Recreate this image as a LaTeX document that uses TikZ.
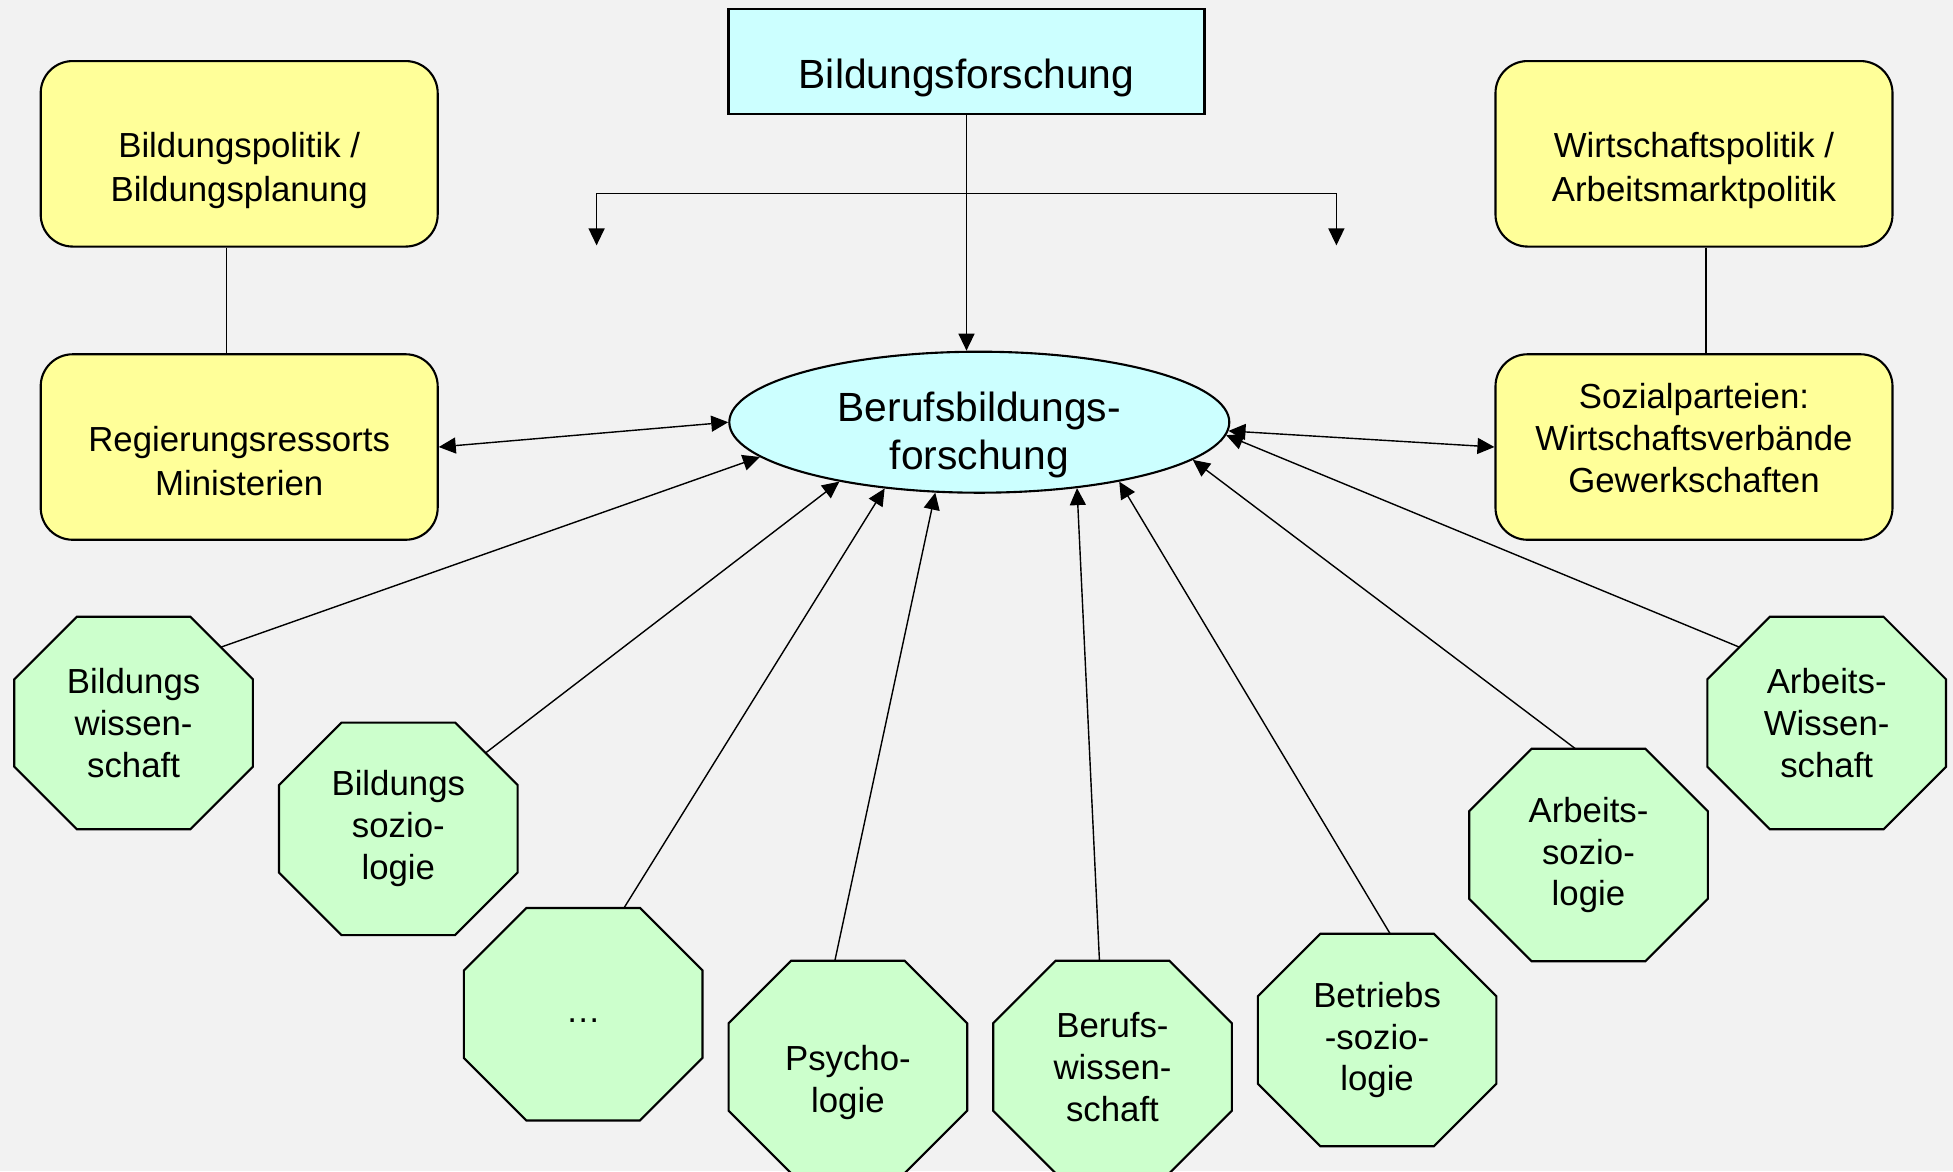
\documentclass[tikz,border=0pt]{standalone}
\usepackage{fontspec}
\setmainfont{Liberation Sans}
\definecolor{bgray}{HTML}{F2F2F2}
\definecolor{boxyellow}{HTML}{FFFF99}
\definecolor{boxcyan}{HTML}{CCFFFF}
\definecolor{octgreen}{HTML}{CCFFCC}
\usetikzlibrary{%
    shapes.geometric,
    arrows.meta,
    positioning,
}
\makeatletter
\pgfkeys{/pgf/octagon cut/.initial=0.625cm}
\pgfdeclareshape{octagon box}{%
    \inheritsavedanchors[from=rectangle]%
    \inheritanchor[from=rectangle]{center}%
    \inheritanchor[from=rectangle]{text}%
    \inheritanchor[from=rectangle]{north}%
    \inheritanchor[from=rectangle]{south}%
    \inheritanchor[from=rectangle]{east}%
    \inheritanchor[from=rectangle]{west}%
    \savedmacro\octcut{%
        \pgfmathsetlength\pgf@xa{\pgfkeysvalueof{/pgf/octagon cut}}%
        \edef\octcut{\the\pgf@xa}%
    }%
    \backgroundpath{%
        \southwest\edef\oct@xa{\the\pgf@x}\edef\oct@ya{\the\pgf@y}%
        \northeast\edef\oct@xb{\the\pgf@x}\edef\oct@yb{\the\pgf@y}%
        \pgfpathmoveto{\pgfpoint{(\oct@xa)+(\octcut)}{\oct@ya}}%
        \pgfpathlineto{\pgfpoint{(\oct@xb)-(\octcut)}{\oct@ya}}%
        \pgfpathlineto{\pgfpoint{\oct@xb}{(\oct@ya)+(\octcut)}}%
        \pgfpathlineto{\pgfpoint{\oct@xb}{(\oct@yb)-(\octcut)}}%
        \pgfpathlineto{\pgfpoint{(\oct@xb)-(\octcut)}{\oct@yb}}%
        \pgfpathlineto{\pgfpoint{(\oct@xa)+(\octcut)}{\oct@yb}}%
        \pgfpathlineto{\pgfpoint{\oct@xa}{(\oct@yb)-(\octcut)}}%
        \pgfpathlineto{\pgfpoint{\oct@xa}{(\oct@ya)+(\octcut)}}%
        \pgfpathclose
    }%
    \anchorborder{%
        \edef\oct@dx{\the\pgf@x}\edef\oct@dy{\the\pgf@y}%
        \southwest\edef\oct@xa{\the\pgf@x}\edef\oct@ya{\the\pgf@y}%
        \northeast\edef\oct@xb{\the\pgf@x}\edef\oct@yb{\the\pgf@y}%
        \pgfmathsetmacro\oct@hw{((\oct@xb)-(\oct@xa))/2}%
        \pgfmathsetmacro\oct@hh{((\oct@yb)-(\oct@ya))/2}%
        \pgfmathsetmacro\oct@ax{max(abs(\oct@dx),0.01)}%
        \pgfmathsetmacro\oct@ay{max(abs(\oct@dy),0.01)}%
        \pgfmathsetmacro\oct@t{min(min(\oct@hw/\oct@ax,\oct@hh/\oct@ay),(\oct@hw+\oct@hh-(\octcut))/(\oct@ax+\oct@ay))}%
        \pgfmathsetlength\pgf@x{((\oct@xa)+(\oct@xb))/2+\oct@t*(\oct@dx)}%
        \pgfmathsetlength\pgf@y{((\oct@ya)+(\oct@yb))/2+\oct@t*(\oct@dy)}%
    }%
}
\makeatother
\tikzset{%
    base/.style = {
        draw,
        text centered,
        align=center,
        font=\fontsize{9.9}{12.5}\selectfont,
        line width=0.6pt,
    },
    pad/.style 2 args = {
        execute at begin node={\rule{0pt}{#1}},
        execute at end node={\rule[-#2]{0pt}{#2}},
    },
    head/.style = {
        base,
        rectangle,
        fill=boxcyan,
        font=\fontsize{11.6}{13.7}\selectfont,
        minimum width=4.76cm,
        minimum height=1.05cm,
    },
    hub/.style = {
        base,
        ellipse,
        fill=boxcyan,
        font=\fontsize{11.6}{13.7}\selectfont,
        minimum width=5.0cm,
        minimum height=1.41cm,
        inner ysep=-0.1cm,
    },
    party/.style = {
        base,
        rectangle,
        rounded corners=0.32cm,
        fill=boxyellow,
        minimum width=3.97cm,
        minimum height=1.855cm,
    },
    field/.style = {
        base,
        octagon box,
        octagon cut=0.625cm,
        outer sep=0pt,
        fill=octgreen,
        font=\fontsize{9.9}{11.9}\selectfont,
        minimum width=2.386cm,
        minimum height=2.125cm,
    },
    link/.style = {
        line width=0.4pt,
    },
    feed/.style = {
        link,
        -{Triangle[length=0.17cm,width=0.16cm]},
    },
    mutual/.style = {
        link,
        {Triangle[length=0.17cm,width=0.16cm]}-{Triangle[length=0.17cm,width=0.16cm]},
    },
}

\begin{document}
\begin{tikzpicture}
    \fill [bgray] (0,0) rectangle (19.53,-11.71);
    \useasboundingbox (0,0) rectangle (19.53,-11.71);

    \node [head, pad={0.62cm}{0.09cm}] (bf) at (9.665,-0.617) {Bildungsforschung};
    \node [hub, pad={1.043cm}{0.09cm}] (bbf) at (9.793,-4.222) {Berufsbildungs-\\forschung};

    \node [party, pad={1.04cm}{0.08cm}] (bp) at (2.392,-1.538) {Bildungspolitik /\\Bildungsplanung};
    \node [party, pad={1.04cm}{0.08cm}, below=1.056cm of bp] (rr) {Regierungsressorts\\Ministerien};
    \node [party, pad={1.04cm}{0.08cm}] (wp) at (16.94,-1.538) {Wirtschaftspolitik /\\Arbeitsmarktpolitik};
    \node [party, pad={0.25cm}{0.18cm}, font=\fontsize{9.9}{11.9}\selectfont, below=1.056cm of wp] (sp)
        {Sozialparteien:\\Wirtschaftsverbände\\Gewerkschaften};

    \node [field] (bw) at (1.336,-7.23) {Bildungs\\wissen-\\schaft};
    \node [field] (bs) at (3.983,-8.288) {Bildungs\\sozio-\\logie};
    \node [field] (etc) at (5.832,-10.142) {\strut …};
    \node [field, pad={0.99cm}{0.08cm}] (psy) at (8.479,-10.67) {Psycho-\\logie};
    \node [field] (brw) at (11.125,-10.67) {Berufs-\\wissen-\\schaft};
    \node [field] (bts) at (13.771,-10.40) {Betriebs\\-sozio-\\logie};
    \node [field] (asoz) at (15.885,-8.55) {Arbeits-\\sozio-\\logie};
    \node [field] (awis) at (18.267,-7.23) {Arbeits-\\Wissen-\\schaft};

    % Verbindungen oben
    \draw [link] ([xshift=-0.125cm]bp.south) -- ([xshift=-0.125cm]rr.north);
    \draw [link] ([xshift=0.12cm]wp.south) -- ([xshift=0.12cm]sp.north);
    \draw [feed] (bf.south) -- (bf.south |- bbf.north);
    \coordinate (dl) at (5.966,-2.454);
    \coordinate (dr) at (13.364,-2.454);
    \draw [mutual] (dl) -- ++(0,0.521) -| (dr);
    \draw [mutual] (rr.east) -- (bbf.west);
    \draw [mutual] (bbf.358) -- (sp.west);

    % Disziplinen
    \draw [feed] (bw.41) -- (bbf.189);
    \draw [feed] (bs.41) -- (bbf.203);
    \draw [feed] (etc.69) -- (bbf.215);
    \draw [feed] (psy.97) -- (bbf.238);
    \draw [feed] (brw.97) -- (bbf.326);
    \draw [feed] (bts.83) -- (bbf.337);
    \draw [feed] (asoz.97) -- (bbf.350);
    \draw [feed] (awis.139) -- (bbf.357);
\end{tikzpicture}
\end{document}
